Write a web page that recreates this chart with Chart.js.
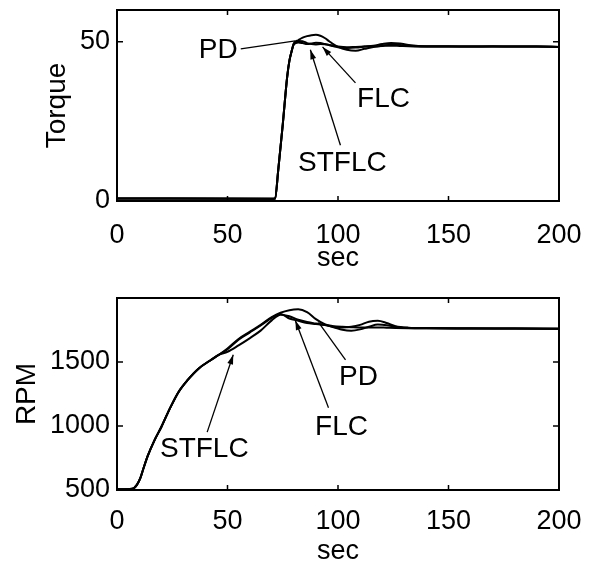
<html>
<head>
<script src="https://cdn.jsdelivr.net/npm/chart.js"></script>
<style>
  body { margin: 0; background: #fff; }
  canvas { position: absolute; left: 0; }
</style>
</head>
<body>
<canvas id="torqueChart" width="590" height="272" style="top:0px"></canvas>
<canvas id="rpmChart" width="590" height="295" style="top:270px"></canvas>
<script>
// ---- data ----
const tTorque = [0, 70, 71.5, 73, 75, 77, 78, 79, 80, 82, 84, 86, 88, 90, 92, 94, 96, 98, 100, 104, 108, 112, 116, 120, 124, 128, 132, 140, 150, 160, 170, 180, 190, 200]
const torquePD = [0.8, 0.7, 0.8, 10, 24, 39, 44, 47, 49.3, 50.3, 50.2, 49.6, 49.3, 49.2, 49.3, 49.2, 49, 48.6, 48.3, 48.1, 48.2, 48.5, 48.8, 49.3, 49.6, 49.5, 49, 48.6, 48.6, 48.5, 48.6, 48.5, 48.5, 48.4]
const torqueFLC = [0.8, 0.7, 0.8, 10, 24, 39, 44, 47, 49.5, 50.5, 51.3, 51.8, 52.1, 52.2, 51.9, 51.2, 50.2, 49.2, 48.4, 47.5, 47.2, 47.8, 48.4, 48.8, 49.1, 49, 48.8, 48.5, 48.5, 48.5, 48.5, 48.5, 48.5, 48.4]
const torqueSTFLC = [0.8, 0.7, 0.8, 10, 24, 39, 44, 47, 49.2, 49.8, 49.6, 49.3, 49.5, 49.7, 49.6, 49.3, 49, 48.7, 48.5, 48.3, 48.4, 48.5, 48.6, 48.7, 48.8, 48.7, 48.6, 48.5, 48.5, 48.5, 48.5, 48.5, 48.5, 48.4]

const tRpm = [0, 7, 9, 10.5, 12, 14, 17, 20, 24, 28, 32, 37, 42, 46, 50, 55, 60, 65, 70, 74, 78, 82, 86, 90, 94, 98, 102, 106, 110, 114, 118, 122, 126, 132, 140, 160, 180, 200]
const rpmRise = [505, 510, 540, 590, 670, 770, 890, 990, 1140, 1270, 1360, 1450, 1510, 1555]
const rpmPD = rpmRise.concat([1605, 1680, 1735, 1790, 1850, 1885, 1905, 1912, 1890, 1835, 1795, 1775, 1770, 1775, 1790, 1815, 1822, 1805, 1780, 1768, 1765, 1763, 1762, 1760])
const rpmFLC = rpmRise.concat([1600, 1675, 1730, 1785, 1845, 1875, 1840, 1822, 1805, 1797, 1788, 1772, 1752, 1745, 1755, 1775, 1792, 1788, 1775, 1765, 1763, 1762, 1761, 1760])
const rpmSTFLC = rpmRise.concat([1580, 1630, 1685, 1745, 1825, 1870, 1858, 1830, 1812, 1800, 1790, 1780, 1775, 1772, 1770, 1770, 1770, 1768, 1766, 1764, 1763, 1762, 1761, 1760])

const xTicks = [0, 50, 100, 150, 200]
const torqueTicks = [0, 50]
const rpmTicks = [500, 1000, 1500]

// text labels with leader lines, in data units
const torqueNotes = [
  { text: "PD", x: 45.8, y: 47.5, from: [56, 47.8], to: [80.7, 50.3], arrow: false },
  { text: "FLC", x: 120.6, y: 32.1, from: [107.9, 37.1], to: [93, 48.4], arrow: true },
  { text: "STFLC", x: 102, y: 11.9, from: [101.1, 17.5], to: [87.5, 47.5], arrow: true }
]
const rpmNotes = [
  { text: "STFLC", x: 39.5, y: 817, from: [40.8, 952], to: [52.6, 1556], arrow: true },
  { text: "FLC", x: 101.6, y: 992, from: [95.7, 1143], to: [80.7, 1825], arrow: true },
  { text: "PD", x: 109.3, y: 1381, from: [103.4, 1516], to: [91.2, 1810], arrow: false }
]

const FONT = "'Liberation Sans', Arial, sans-serif"

function pts(ts, ys) {
  return ts.map(function (t, i) { return { x: t, y: ys[i] } })
}

function line(label, data) {
  return {
    label: label,
    data: data,
    borderColor: "#000",
    borderWidth: 2,
    pointRadius: 0,
    cubicInterpolationMode: "monotone",
    fill: false
  }
}

// box + inward ticks + notes
const frame = {
  id: "frame",
  afterDatasetsDraw(chart) {
    const ctx = chart.ctx
    const a = chart.chartArea
    const xs = chart.scales.x, ys = chart.scales.y
    ctx.save()
    ctx.strokeStyle = "#000"
    ctx.lineWidth = 2
    ctx.strokeRect(a.left, a.top, a.right - a.left, a.bottom - a.top)
    ctx.lineWidth = 1.5
    ctx.beginPath()
    xs.ticks.forEach(function (t) {
      const px = xs.getPixelForValue(t.value)
      ctx.moveTo(px, a.bottom); ctx.lineTo(px, a.bottom - 5)
      ctx.moveTo(px, a.top); ctx.lineTo(px, a.top + 5)
    })
    ys.ticks.forEach(function (t) {
      const py = ys.getPixelForValue(t.value)
      ctx.moveTo(a.left, py); ctx.lineTo(a.left + 6, py)
      ctx.moveTo(a.right, py); ctx.lineTo(a.right - 6, py)
    })
    ctx.stroke()

    const notes = chart.options.plugins.frame.notes
    ctx.font = "28px " + FONT
    ctx.fillStyle = "#000"
    ctx.textAlign = "center"
    ctx.textBaseline = "middle"
    notes.forEach(function (n) {
      ctx.fillText(n.text, xs.getPixelForValue(n.x), ys.getPixelForValue(n.y))
      const x1 = xs.getPixelForValue(n.from[0]), y1 = ys.getPixelForValue(n.from[1])
      const x2 = xs.getPixelForValue(n.to[0]), y2 = ys.getPixelForValue(n.to[1])
      ctx.lineWidth = 1.3
      ctx.beginPath(); ctx.moveTo(x1, y1); ctx.lineTo(x2, y2); ctx.stroke()
      if (n.arrow) {
        const ang = Math.atan2(y2 - y1, x2 - x1)
        ctx.beginPath()
        ctx.moveTo(x2, y2)
        ctx.lineTo(x2 - 10 * Math.cos(ang - 0.3), y2 - 10 * Math.sin(ang - 0.3))
        ctx.lineTo(x2 - 10 * Math.cos(ang + 0.3), y2 - 10 * Math.sin(ang + 0.3))
        ctx.closePath(); ctx.fill()
      }
    })
    ctx.restore()
  }
}

function makeChart(id, datasets, yMin, yMax, yTicks, yTitle, yTitlePad, notes, padTop, xHeight, xPad) {
  return new Chart(document.getElementById(id), {
    type: "scatter",
    data: { datasets: datasets },
    plugins: [frame],
    options: {
      responsive: false,
      animation: false,
      showLine: true,
      layout: { padding: { top: padTop, right: 31, left: 0, bottom: 0 } },
      plugins: { legend: { display: false }, tooltip: { enabled: false }, frame: { notes: notes } },
      scales: {
        x: {
          type: "linear", min: 0, max: 200,
          afterBuildTicks: function (s) { s.ticks = xTicks.map(function (v) { return { value: v } }) },
          afterFit: function (s) { s.height = xHeight; s.paddingLeft = 0; s.paddingRight = 0 },
          grid: { display: false, drawTicks: false },
          border: { display: false },
          ticks: { color: "#000", font: { family: FONT, size: 27 }, padding: xPad, maxRotation: 0,
                   callback: function (v) { return String(v) } },
          title: { display: true, text: "sec", color: "#000", font: { family: FONT, size: 27, lineHeight: 1 }, padding: 0 }
        },
        y: {
          type: "linear", min: yMin, max: yMax,
          afterBuildTicks: function (s) { s.ticks = yTicks.map(function (v) { return { value: v } }) },
          afterFit: function (s) { s.width = 117; s.paddingTop = 0; s.paddingBottom = 0 },
          grid: { display: false, drawTicks: false },
          border: { display: false },
          ticks: { color: "#000", font: { family: FONT, size: 27 }, padding: 7,
                   callback: function (v) { return String(v) } },
          title: { display: true, text: yTitle, color: "#000", font: { family: FONT, size: 28 }, padding: { top: yTitlePad, bottom: 0 } }
        }
      }
    }
  })
}

makeChart("torqueChart", [
  line("PD", pts(tTorque, torquePD)),
  line("FLC", pts(tTorque, torqueFLC)),
  line("STFLC", pts(tTorque, torqueSTFLC))
], 0, 60, torqueTicks, "Torque", 40, torqueNotes, 10, 71, 18)

makeChart("rpmChart", [
  line("PD", pts(tRpm, rpmPD)),
  line("FLC", pts(tRpm, rpmFLC)),
  line("STFLC", pts(tRpm, rpmSTFLC))
], 500, 2000, rpmTicks, "RPM", 10, rpmNotes, 28, 75, 15)
</script>
</body>
</html>
